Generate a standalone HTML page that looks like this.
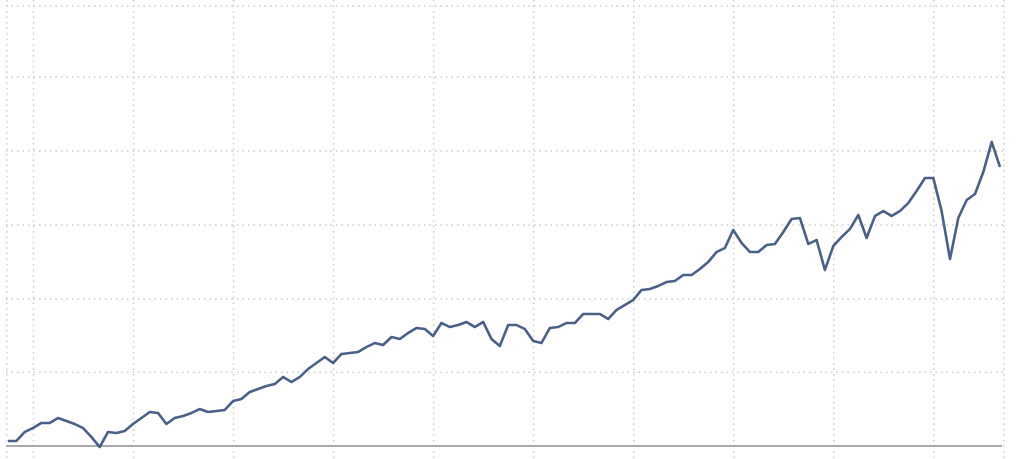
<!DOCTYPE html>
<html><head><meta charset="utf-8"><style>
html,body{margin:0;padding:0;background:#fff;}
svg{display:block;font-family:"Liberation Sans",sans-serif;}
</style></head><body>
<svg id="chart" width="1017" height="459" viewBox="0 0 1017 459">
<g id="grid"></g>
<line x1="6" x2="1002" y1="446" y2="446" stroke="#aaaaaa" stroke-width="2"/>
<path id="series" fill="none" stroke="#4a6088" stroke-width="2.6" stroke-linejoin="round"/>
</svg>
<script>
const values = [5,5,14,18,23,23,28,25,22,18,
9,-1,14,13,15,22,28,34,33,22,
28,30,33,37,34,35,36,45,47,54,
57,60,62,69,64,69,77,83,89,83,
92,93,94,99,103,101,109,107,113,118,
117,110,123,119,121,124,119,124,107,100,
121,121,117,105,103,118,119,123,123,132,
132,132,127,136,141,146,156,157,160,164,
165,171,171,177,184,194,198,216,203,194,
194,201,202,214,227,228,202,206,176,200,
209,217,231,208,230,235,230,235,243,255,
268,268,235,187,228,246,252,274,304,279];
const yTicks = [73.6,147,221,295,369,440];
const xTicks = [3,15,27,39,51,63,75,87,99,111];

const svgNS = "http://www.w3.org/2000/svg";
const n = values.length;
function xPos(i){ return 8 + i*(992/(n-1)); }
function yPos(v){ return 446 - v; }

const grid = document.getElementById('grid');
yTicks.forEach(t=>{
  const l = document.createElementNS(svgNS,'line');
  
  
  l.setAttribute('x1',6); l.setAttribute('x2',1003);
  l.setAttribute('y1',yPos(t)); l.setAttribute('y2',yPos(t));
  l.setAttribute('stroke','#cccccc'); l.setAttribute('stroke-width','1.5');
  l.setAttribute('stroke-dasharray','1.5 4');
  grid.appendChild(l);
});
[-0.2].concat(xTicks).concat([119.4]).forEach(t=>{
  const l = document.createElementNS(svgNS,'line');
  
  
  const x = 8 + t*(992/(n-1)) + 0.5;
  l.setAttribute('x1',x); l.setAttribute('x2',x);
  l.setAttribute('y1',0); l.setAttribute('y2',459);
  l.setAttribute('stroke','#cccccc'); l.setAttribute('stroke-width','1.5');
  l.setAttribute('stroke-dasharray','1.5 4');
  grid.appendChild(l);
});
let d = '';
values.forEach((v,i)=>{ d += (i?'L':'M') + xPos(i).toFixed(1) + ',' + yPos(v).toFixed(1); });
document.getElementById('series').setAttribute('d', d);
</script>
</body></html>
